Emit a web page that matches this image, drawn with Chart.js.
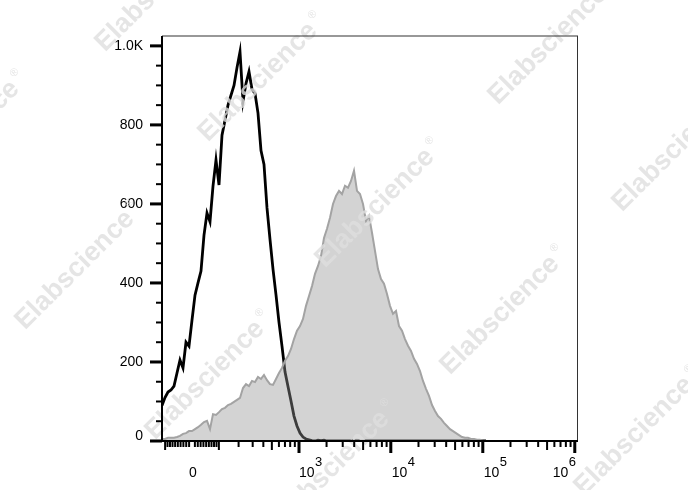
<!DOCTYPE html>
<html>
<head>
<meta charset="utf-8">
<script src="https://cdn.jsdelivr.net/npm/chart.js@4.4.1/dist/chart.umd.min.js"></script>
<style>
  html, body { margin: 0; padding: 0; background: #fff; }
</style>
</head>
<body>
<canvas id="histo" width="688" height="490"></canvas>
<script>
// histogram bins, in display channels (biexponential axis, 0 = zero signal)
const channels = [-30,-27,-24,-21,-18,-15,-12,-9,-6,-3,0,3,6,9,12,15,18,21,24,27,30,33,36,39,42,45,48,51,54,57,
  60,63,66,69,72,75,78,81,84,87,90,93,96,99,102,105,108,111,114,117,120,123,126,129,132,135,138,141,144,147,
  150,153,156,159,162,165,168,171,174,177,180,183,186,189,192,195,198,201,204,207,210,213,216,219,222,225,228,231,234,237,
  240,243,246,249,252,255,258,261,264,267,270,273,276,279,282,285,288,291,294];

// black outline: unstained / isotype
const isotypeCounts = [90,110,124,129,139,172,205,185,250,240,306,369,400,430,521,577,555,645,711,648,
  774,812,850,875,900,945,985,860,905,935,890,880,830,735,700,590,510,435,370,300,
  240,175,138,101,63,38,20,10,5,3,1,0,2,1,2,
  0,0,0,0,0,0,0,0,0,0,0,0,0,0,0,0,0,0,0,0,0,0,0,0,0,0,0,0,0,0,0,0,0,0,0,0,0,0,0,0,0,0,0,0,0,0,0,0,0,0,0,0,0,0];

// grey filled: stained sample
const stainedCounts = [5,5,8,8,8,10,13,18,20,25,25,30,35,41,48,51,30,68,66,73,
  81,84,91,94,99,104,109,134,144,139,152,149,162,157,167,154,144,142,157,172,
  185,203,215,233,258,279,291,309,342,367,392,423,443,468,514,537,565,600,620,633,
  625,646,641,658,684,633,625,600,557,570,527,481,435,410,398,372,342,322,329,291,
  279,258,241,228,208,195,177,152,132,114,91,76,63,56,46,38,30,25,20,15,
  10,8,8,5,5,3,3,0,0];

const yTickValues = [0, 200, 400, 600, 800, 1000];
const yTickLabels = ['0', '200', '400', '600', '800', '1.0K'];
const xTickValues = [0, 1e3, 1e4, 1e5, 1e6];
const xTickExps = ['', '3', '4', '5', '6'];

// fluorescence value -> display channel
function biex(v) {
  return 39.95 * Math.asinh(v / 138);
}

const FONT = 'Arial, "Liberation Sans", sans-serif';

function minorXTicks() {
  const out = [];
  for (let m = 1; m <= 9; m++) {
    out.push({ v: m * 10, size: 'minor' }, { v: -m * 10, size: 'minor' });
  }
  out.push({ v: 100, size: 'mid' }, { v: -100, size: 'mid' });
  for (let d = 100; d <= 1e5; d *= 10) {
    for (let m = 2; m <= 9; m++) {
      out.push({ v: m * d, size: m === 5 ? 'mid' : 'minor' });
    }
  }
  return out;
}

const marks = [[155, -8], [258, 82], [548, 45], [-40, 140], [375, 208], [672, 152],
  [75, 270], [205, 380], [500, 315], [330, 470], [634, 436]];

const decorPlugin = {
  id: 'decor',
  afterDatasetsDraw(chart) {
    const ctx = chart.ctx;
    ctx.save();
    ctx.fillStyle = 'rgba(222,222,222,0.8)';
    ctx.textAlign = 'center';
    ctx.textBaseline = 'middle';
    marks.forEach(([x, y]) => {
      ctx.save();
      ctx.translate(x, y);
      ctx.rotate(-Math.PI / 4);
      ctx.font = 'bold 27px ' + FONT;
      ctx.fillText('Elabscience', 0, 0);
      const w = ctx.measureText('Elabscience').width;
      ctx.font = '11px ' + FONT;
      ctx.fillText('®', w / 2 + 8, -9);
      ctx.restore();
    });
    ctx.restore();
  },
  afterDraw(chart) {
    const ctx = chart.ctx;
    const a = chart.chartArea;
    const xs = chart.scales.x;
    const ys = chart.scales.y;
    ctx.save();

    // frame
    ctx.fillStyle = '#333';
    ctx.fillRect(a.left, a.top - 0.5, a.right - a.left, 1);
    ctx.fillRect(a.right - 1, a.top, 1, a.bottom - a.top);
    ctx.fillStyle = '#000';
    ctx.fillRect(a.left - 1, a.top, 2, a.bottom - a.top + 1);
    ctx.fillRect(a.left - 1, a.bottom - 1, a.right - a.left + 1, 2);

    // y ticks
    for (let v = 0; v <= 1000; v += 50) {
      const y = ys.getPixelForValue(v);
      if (v % 200 === 0) ctx.fillRect(a.left - 12, y - 1.5, 12, 3);
      else ctx.fillRect(a.left - 6, y - 1, 6, 2);
    }
    ctx.font = '14px ' + FONT;
    ctx.textAlign = 'right';
    ctx.textBaseline = 'middle';
    ctx.fillText(yTickLabels[0], a.left - 19, ys.getPixelForValue(0) - 5);

    // x ticks
    minorXTicks().forEach(t => {
      const x = xs.getPixelForValue(biex(t.v));
      if (x < a.left + 1 || x > a.right) return;
      if (t.size === 'mid') ctx.fillRect(x - 1, a.bottom, 2, 9);
      else ctx.fillRect(x - 1, a.bottom, 2, 6);
    });
    const labelShift = [1, 0, 1, 1, -22];
    xTickValues.forEach((v, i) => {
      const x = xs.getPixelForValue(biex(v));
      if (i > 0) ctx.fillRect(x - 1.5, a.bottom, 3, 12);
      ctx.textBaseline = 'alphabetic';
      ctx.font = '14px ' + FONT;
      if (i === 0) {
        ctx.textAlign = 'center';
        ctx.fillText('0', x + labelShift[i], 477);
      } else {
        ctx.textAlign = 'left';
        const x0 = x + labelShift[i];
        ctx.fillText('10', x0, 477);
        const w = ctx.measureText('10').width;
        ctx.font = '13px ' + FONT;
        ctx.fillText(xTickExps[i], x0 + w + 0.5, 466);
      }
    });
    ctx.restore();
  }
};

new Chart(document.getElementById('histo').getContext('2d'), {
  type: 'line',
  data: {
    datasets: [
      {
        label: 'Stained',
        data: channels.map((c, i) => ({ x: c, y: stainedCounts[i] })),
        borderColor: '#a3a3a3',
        borderWidth: 2,
        backgroundColor: 'rgba(147,147,147,0.41)',
        fill: 'origin',
        pointRadius: 0,
        tension: 0
      },
      {
        label: 'Control',
        data: channels.map((c, i) => ({ x: c, y: isotypeCounts[i] })),
        borderColor: '#000',
        borderWidth: 2.8,
        fill: false,
        pointRadius: 0,
        tension: 0
      }
    ]
  },
  options: {
    responsive: false,
    animation: false,
    layout: { padding: { top: 36, right: 110, bottom: 0, left: 0 } },
    plugins: { legend: { display: false }, tooltip: { enabled: false } },
    scales: {
      x: {
        type: 'linear',
        min: -30,
        max: 386,
        grid: { display: false, drawTicks: false },
        border: { display: false },
        ticks: { display: false },
        afterFit(s) { s.height = 49; }
      },
      y: {
        min: 0,
        max: 1025,
        grid: { display: false, drawTicks: false },
        border: { display: false },
        afterBuildTicks(s) { s.ticks = yTickValues.map(v => ({ value: v })); },
        ticks: {
          autoSkip: false,
          padding: 19,
          color: '#000',
          font: { family: FONT, size: 14 },
          callback: (v) => {
            const i = yTickValues.indexOf(v);
            return i > 0 ? yTickLabels[i] : '';
          }
        },
        afterFit(s) { s.width = 162; }
      }
    }
  },
  plugins: [decorPlugin]
});
</script>
</body>
</html>
